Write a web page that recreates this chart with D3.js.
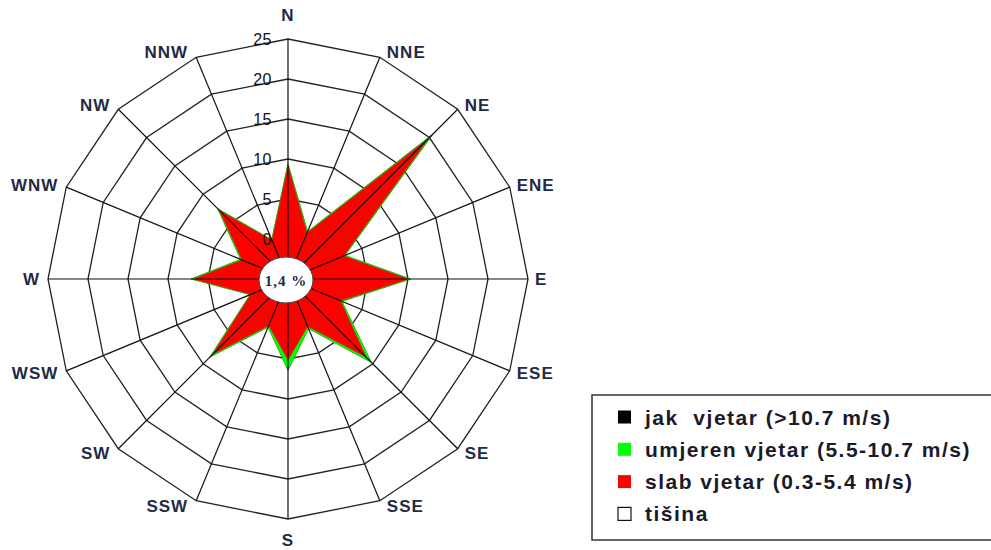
<!DOCTYPE html>
<html>
<head>
<meta charset="utf-8">
<script src="https://cdn.jsdelivr.net/npm/d3@7"></script>
<style>
  body { margin: 0; background: #fff; }
  svg { display: block; }
</style>
</head>
<body>
<div id="chart"></div>
<script>
// wind directions, clockwise from north
const directions = ["N", "NNE", "NE", "ENE", "E", "ESE", "SE", "SSE",
                    "S", "SSW", "SW", "WSW", "W", "WNW", "NW", "NNW"];

// frequency (%) per direction
const slab    = [9.1, 1.2, 19.8, 2.5, 10.0, 2.1, 8.8, 1.4, 5.1, 1.3, 8.3, 0.0, 6.8, 1.2, 7.1, 0.2];
const umjeren = [0.3, 0.2, 0.7, 0.2, 0.3, 0.2, 0.9, 0.3, 1.3, 0.2, 0.5, 0.1, 0.3, 0.2, 0.3, 0.1];
const jak     = [0, 0, 0.1, 0, 0, 0, 0, 0, 0, 0, 0, 0, 0, 0, 0, 0];

const ringTicks = [0, 5, 10, 15, 20, 25];
const calm = "1,4 %";

const legendLabels = ["jak  vjetar (>10.7 m/s)", "umjeren vjetar (5.5-10.7 m/s)",
                      "slab vjetar (0.3-5.4 m/s)", "tišina"];
const legendColors = ["#000000", "#00ff00", "#ff0000", "#ffffff"];

const width = 991, height = 550;
const cx = 288, cy = 279;

const svg = d3.select("#chart").append("svg")
    .attr("width", width)
    .attr("height", height);

svg.append("rect").attr("width", width).attr("height", height).attr("fill", "#fff");

const g = svg.append("g").attr("transform", `translate(${cx},${cy})`);

// radial and angular scales
const r = d3.scaleLinear().domain([0, 25]).range([40, 240]);
const angle = d3.scaleLinear().domain([0, directions.length]).range([0, 2 * Math.PI]);

const radial = d3.lineRadial()
    .angle((d, i) => angle(i))
    .radius(d => r(d))
    .curve(d3.curveLinearClosed);

// grid rings (16-gons)
g.append("g").selectAll("path")
    .data(ringTicks)
    .enter().append("path")
    .attr("d", t => radial(directions.map(() => t)))
    .attr("fill", "none")
    .attr("stroke", "#222")
    .attr("stroke-width", 1.3);

// stacked petals: totals first, then smaller layers on top
const layerSlab = slab;
const layerUmj = slab.map((v, i) => v + umjeren[i]);
const layerJak = layerUmj.map((v, i) => v + jak[i]);

const layers = [
    { values: layerJak, color: "#000000" },
    { values: layerUmj, color: "#00ff00" },
    { values: layerSlab, color: "#ff0000" }
];

g.append("g").selectAll("path")
    .data(layers)
    .enter().append("path")
    .attr("d", d => radial(d.values))
    .attr("fill", d => d.color)
    .attr("stroke", d => d.color)
    .attr("stroke-width", 0.6);

// spokes over the petals
g.append("g").selectAll("line")
    .data(directions)
    .enter().append("line")
    .attr("x1", 0).attr("y1", 0)
    .attr("x2", (d, i) => r(25) * Math.sin(angle(i)))
    .attr("y2", (d, i) => -r(25) * Math.cos(angle(i)))
    .attr("stroke", "#111")
    .attr("stroke-width", 1.2);

// calm circle
g.append("ellipse")
    .attr("cx", -2).attr("cy", 1)
    .attr("rx", 27).attr("ry", 23)
    .attr("fill", "#fff")
    .attr("stroke", "#444")
    .attr("stroke-width", 1);

g.append("text")
    .attr("x", -2).attr("y", 7)
    .attr("text-anchor", "middle")
    .style("font-family", "'Liberation Serif', serif")
    .style("font-weight", "bold")
    .style("font-size", "15px")
    .style("letter-spacing", "1px")
    .attr("fill", "#1a2a4a")
    .text(calm);

// ring labels along the north axis
g.append("g").selectAll("text")
    .data(ringTicks)
    .enter().append("text")
    .attr("x", -16)
    .attr("y", t => -r(t))
    .attr("dy", "0.36em")
    .attr("text-anchor", "end")
    .style("font-family", "'Liberation Sans', Arial, sans-serif")
    .style("font-size", "16px")
    .style("letter-spacing", "0.5px")
    .attr("fill", "#111")
    .text(t => t);

// direction labels
g.append("g").selectAll("text")
    .data(directions)
    .enter().append("text")
    .each(function(d, i) {
        const a = angle(i);
        const s = Math.sin(a), c = Math.cos(a);
        const vx = r(25) * s, vy = -r(25) * c;
        const el = d3.select(this);
        if (Math.abs(s) < 1e-6) {
            el.attr("x", vx).attr("y", vy - c * (c > 0 ? 24 : 21)).attr("text-anchor", "middle");
        } else {
            el.attr("x", vx + (s > 0 ? 7 : -8))
              .attr("y", vy - c * 6)
              .attr("text-anchor", s > 0 ? "start" : "end");
        }
    })
    .attr("dy", "0.36em")
    .style("font-family", "'Liberation Sans', Arial, sans-serif")
    .style("font-size", "17px")
    .style("font-weight", "bold")
    .style("letter-spacing", "1px")
    .attr("fill", "#1f2a44")
    .text(d => d);

// legend
const legend = svg.append("g").attr("transform", "translate(592,395)");

legend.append("rect")
    .attr("width", 420).attr("height", 145)
    .attr("fill", "#fff")
    .attr("stroke", "#333")
    .attr("stroke-width", 1.5);

const items = legend.selectAll(".item")
    .data(legendLabels)
    .enter().append("g")
    .attr("class", "item")
    .attr("transform", (d, i) => `translate(0,${22 + i * 32.3})`);

items.append("rect")
    .attr("x", 26).attr("y", -6.5)
    .attr("width", 13).attr("height", 13)
    .attr("fill", (d, i) => legendColors[i])
    .attr("stroke", (d, i) => i === 3 ? "#111" : "none")
    .attr("stroke-width", 1.2);

items.append("text")
    .attr("x", 53)
    .attr("dy", "0.36em")
    .style("font-family", "'Liberation Sans', Arial, sans-serif")
    .style("font-size", "21px")
    .style("font-weight", "bold")
    .style("letter-spacing", "1.5px")
    .style("white-space", "pre")
    .attr("fill", "#1a1a2a")
    .text(d => d);
</script>
</body>
</html>
